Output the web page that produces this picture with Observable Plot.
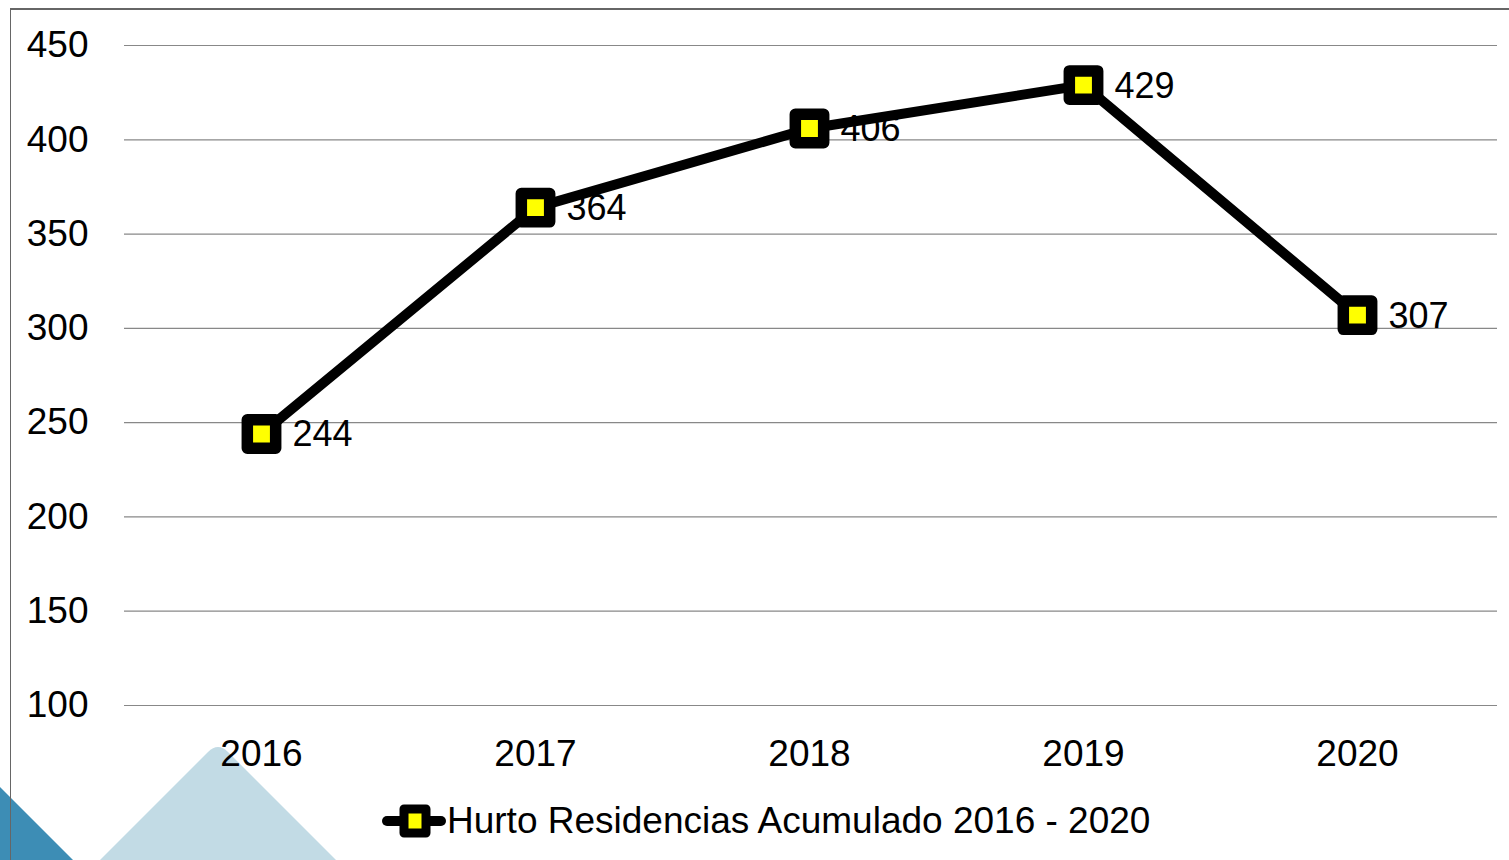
<!DOCTYPE html>
<html><head><meta charset="utf-8">
<script src="https://cdn.jsdelivr.net/npm/d3@7"></script>
<script src="https://cdn.jsdelivr.net/npm/@observablehq/plot@0.6"></script>
<style>
html,body{margin:0;padding:0;background:#fff;}
#wrap{position:relative;width:1509px;height:860px;overflow:hidden;font-family:"Liberation Sans",Arial,sans-serif;}
#deco{position:absolute;left:0;top:0;}
#frame{position:absolute;left:10px;top:8px;width:1499px;height:852px;border-left:1.5px solid #666;border-top:2px solid #666;box-sizing:border-box;}
#chart{position:absolute;left:0;top:0;}
#legend{position:absolute;left:382px;top:800px;display:flex;align-items:center;font-size:37px;color:#000;}
</style></head>
<body>
<div id="wrap">
<svg id="deco" width="1509" height="860">
  <polygon points="0,787 73,860 0,860" fill="#3d8db5"/>
  <path d="M100,860 L208,752 Q218,742 228,752 L336,860 Z" fill="#c2dbe5"/>
</svg>
<div id="frame"></div>
<div id="chart"></div>
<div id="legend"></div>
</div>
<script>
const years = ["2016","2017","2018","2019","2020"];
const values = [244, 364, 406, 429, 307];
const yTicks = [100,150,200,250,300,350,400,450];
const seriesName = "Hurto Residencias Acumulado 2016 - 2020";

const data = years.map((y,i)=>({year:y, value:values[i]}));

const chart = Plot.plot({
  width:1509, height:790,
  marginLeft:122, marginRight:14, marginTop:45, marginBottom:85,
  style:{fontFamily:"'Liberation Sans', Arial, sans-serif", fontSize:"37px", background:"transparent", overflow:"visible"},
  x:{type:"point", domain:years, padding:0.5, label:null, tickSize:0, tickPadding:34},
  y:{domain:[100,450], ticks:yTicks, label:null, tickSize:0, tickPadding:34},
  marks:[
    Plot.gridY(yTicks, {stroke:"#888", strokeOpacity:1, strokeWidth:1.2, insetLeft:2, insetRight:-2}),
    Plot.axisX({tickSize:0, tickPadding:34, fontSize:37, fill:"#000"}),
    Plot.axisY({ticks:yTicks, tickSize:0, tickPadding:34, fontSize:37, fill:"#000"}),
    Plot.text(data, {x:"year", y:"value", text:d=>String(d.value), textAnchor:"start", dx:31, dy:1, fontSize:36, fill:"#000"}),
    Plot.line(data, {x:"year", y:"value", stroke:"#000", strokeWidth:10}),
    Plot.dot(data, {x:"year", y:"value", symbol:"square", r:16, fill:"#ffff00", stroke:"#000", strokeWidth:11.5, strokeLinejoin:"round"})
  ]
});
document.getElementById("chart").appendChild(chart);

const lg = document.getElementById("legend");
lg.innerHTML = `<svg width="64" height="40" style="margin-right:1px"><line x1="5" y1="20" x2="59" y2="20" stroke="#000" stroke-width="10" stroke-linecap="round"/><rect x="22" y="8" width="22" height="24" fill="#ffff00" stroke="#000" stroke-width="9" stroke-linejoin="round"/><rect x="29" y="16" width="8" height="8" fill="#ffff00"/></svg><span></span>`;
lg.querySelector("span").textContent = seriesName;
</script>
</body></html>
